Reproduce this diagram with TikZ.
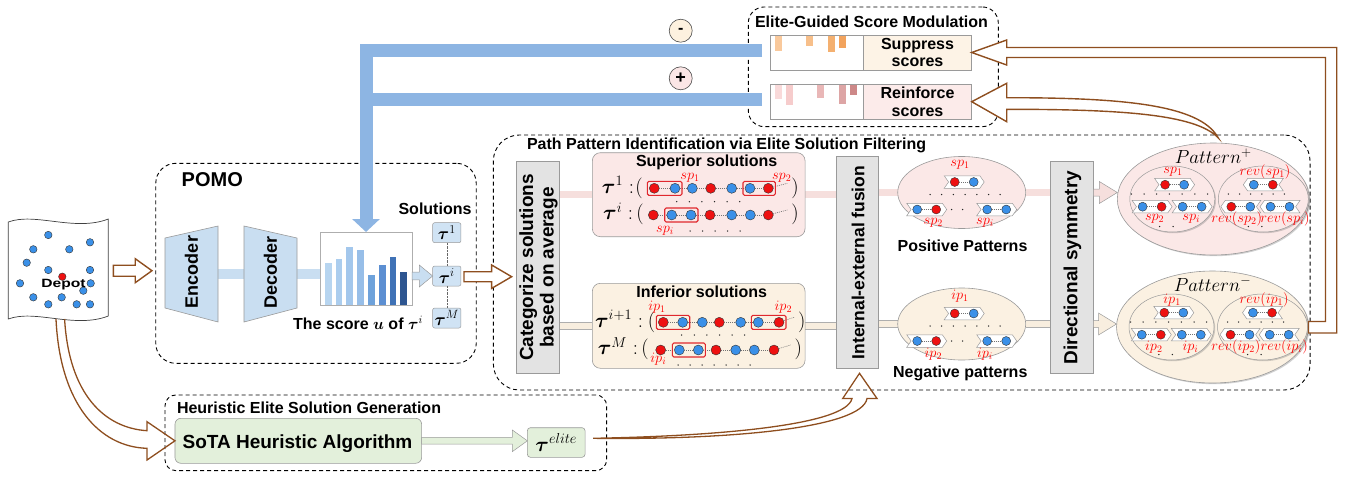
\RequirePackage{fix-cm}
\documentclass[tikz,border=0pt]{standalone}
\usepackage{amsmath}
\usepackage{fontspec}
\setmainfont{Liberation Sans}
\usetikzlibrary{shapes.geometric,shapes.symbols,arrows.meta,calc,fit,backgrounds,shadows}

\definecolor{brn}{HTML}{8E4E1F}
\definecolor{barblue}{HTML}{8DB5E3}
\definecolor{ltblue}{HTML}{C9DEF1}
\definecolor{boxblue}{HTML}{D0E3F4}
\definecolor{supfill}{HTML}{FBE8E7}
\definecolor{inffill}{HTML}{FBF1E2}
\definecolor{pinkband}{HTML}{F6DFDD}
\definecolor{creamband}{HTML}{F8EEDF}
\definecolor{boxgray}{HTML}{E3E3E3}
\definecolor{dred}{HTML}{EE1111}
\definecolor{dblue}{HTML}{3A90E8}
\definecolor{rbox}{HTML}{E0282E}
\definecolor{suppfill}{HTML}{FDF3E6}
\definecolor{reinfill}{HTML}{FCEBEA}
\definecolor{grn}{HTML}{E3F0DB}
\definecolor{minusfill}{HTML}{FDF1DF}
\definecolor{plusfill}{HTML}{FBE6E6}
\definecolor{edge}{HTML}{9A9A9A}
\definecolor{cb1}{HTML}{B7D5F0}
\definecolor{cb2}{HTML}{ABCDEE}
\definecolor{cb3}{HTML}{A3C7EC}
\definecolor{cb4}{HTML}{97BEE8}
\definecolor{cb5}{HTML}{6EA2DB}
\definecolor{cb6}{HTML}{5C8FD2}
\definecolor{cb7}{HTML}{3F72B6}
\definecolor{cb8}{HTML}{2D5590}
\definecolor{sb1}{HTML}{F9C99C}
\definecolor{sb2}{HTML}{F7BF8A}
\definecolor{sb3}{HTML}{F4B070}
\definecolor{sb4}{HTML}{F2A35D}
\definecolor{rb1}{HTML}{F9DADA}
\definecolor{rb2}{HTML}{F6CCCC}
\definecolor{rb3}{HTML}{E9B7B7}
\definecolor{rb4}{HTML}{DDA5A5}
\definecolor{rb5}{HTML}{CD8888}

% horizontal block arrow: [style]{from}{to}{shaft half width}{head half width}{head length}
\newcommand{\harrow}[6][]{%
  \draw[#1] let \p1=#2, \p2=#3 in
    (\x1,\y1+#4) -- (\x2-#6,\y1+#4) -- (\x2-#6,\y1+#5) -- (\x2,\y1)
    -- (\x2-#6,\y1-#5) -- (\x2-#6,\y1-#4) -- (\x1,\y1-#4) -- cycle;}

% one solution: seven customer dots joined by dotted links
\newcommand{\solrow}[3]{%
  \foreach \xx/\ss [count=\k] in {#3} {\node[\ss] (#1-\k) at (\xx,#2) {};}
  \foreach \k [remember=\k as \kp (initially 1)] in {2,...,7} {\draw[plink] (#1-\kp) -- (#1-\k);}}

% a path fragment: chevron holding two nodes
\newcommand{\chv}[5]{%
  \node[#3] (#1) at #2 {};
  \node[#4] (#1a) at ($(#1.center)+(-9.5,0)$) {};
  \node[#5] (#1b) at ($(#1.center)+(9.5,0)$) {};
  \draw[plink] (#1a) -- (#1b);}

% pattern pool (positive / negative)
\newcommand{\posneg}[4]{%
  \node[ellipse, draw=edge, fill=#3, line width=0.6pt, minimum width=128pt, minimum height=72pt] (#1) at #2 {};
  \node[lbl] (#1p1) at ($(#1)+(-1.7,-28)$) {$#4p_1$};
  \chv{#1a}{($(#1)+(2.5,-10.5)$)}{chF}{rp}{bp}
  \draw[dotrow=11.7pt] ($(#1)+(-31.7,2)$) -- ($(#1)+(38.5,2)$);
  \chv{#1b}{($(#1)+(-35,17)$)}{chF}{bp}{rp}
  \draw[dotrow=11pt] ($(#1)+(-10,17)$) -- ($(#1)+(12,17)$);
  \chv{#1c}{($(#1)+(35,17)$)}{chF}{bp}{bp}
  \node[lbl] (#1p2) at ($(#1)+(-28.4,30.5)$) {$#4p_2$};
  \node[lbl] (#1p3) at ($(#1)+(23.3,30.5)$) {$#4p_i$};}

% pattern set with its direction-reversed copy
\newcommand{\patgroup}[5]{%
  \node[ellipse, draw=edge, fill=#3, line width=0.6pt, minimum width=192pt, minimum height=112pt, shadowed] (#1) at #2 {};
  \node[font=\fontsize{19}{19}\selectfont] (#1t) at ($(#1)+(0,-43)$) {$Pattern^{#4}$};
  \node[ellipse, draw=edge, fill=#3, line width=0.5pt, minimum width=85pt, minimum height=66pt, shadowed] (#1L) at ($(#1)+(-41,0)$) {};
  \node[ellipse, draw=edge, fill=#3, line width=0.5pt, minimum width=90pt, minimum height=66pt, shadowed] (#1R) at ($(#1)+(50,0)$) {};
  \node[lbl] (#1L0) at ($(#1L)+(0.6,-27.3)$) {$#5p_1$};
  \chv{#1La}{($(#1L)+(2.3,-14.3)$)}{chF}{rp}{bp}
  \draw[dotrow=12.7pt] ($(#1L)+(-41,-5)$) -- ($(#1L)+(35.2,-5)$);
  \chv{#1Lb}{($(#1L)+(-20.2,7.7)$)}{chF}{bp}{rp}
  \chv{#1Lc}{($(#1L)+(19.8,7.7)$)}{chF}{bp}{bp}
  \node[lbl] (#1L2) at ($(#1L)+(-17.7,20)$) {$#5p_2$};
  \node[lbl] (#1L3) at ($(#1L)+(19,20)$) {$#5p_i$};
  \draw[dotrow=13.5pt] ($(#1L)+(-12.7,27.5)$) -- ($(#1L)+(14.3,27.5)$);
  \node[rlbl] (#1R0) at ($(#1R)+(1.7,-27.3)$) {$rev(#5p_1)$};
  \chv{#1Ra}{($(#1R)+(0,-14.3)$)}{chR}{bp}{rp}
  \draw[dotrow=11.2pt] ($(#1R)+(-35,-5)$) -- ($(#1R)+(32,-5)$);
  \chv{#1Rb}{($(#1R)+(-22.5,7.7)$)}{chR}{rp}{bp}
  \chv{#1Rc}{($(#1R)+(16.7,7.7)$)}{chR}{bp}{bp}
  \node[rlbl] (#1R2) at ($(#1R)+(-26.6,20)$) {$rev(#5p_2)$};
  \node[rlbl] (#1R3) at ($(#1R)+(21.7,20)$) {$rev(#5p_i)$};
  \draw[dotrow=13.5pt] ($(#1R)+(-15,27.5)$) -- ($(#1R)+(12,27.5)$);}

\begin{document}
\begin{tikzpicture}[x=1pt,y=-1pt,
  every node/.style={inner sep=0pt,outer sep=0pt},
  dashframe/.style={draw=black, line width=0.9pt, dash pattern=on 4pt off 3pt},
  ttl/.style={font=\fontsize{16}{19}\selectfont\bfseries},
  hollow/.style={draw=brn, fill=white, line width=1.4pt, line join=miter},
  brnline/.style={draw=brn, line width=1.3pt},
  gbox/.style={draw=edge, fill=boxgray, line width=0.6pt},
  rot/.style={rotate=90, align=center, font=\fontsize{19}{20.5}\selectfont\bfseries},
  rd/.style={circle, draw=black!80, line width=0.4pt, fill=dred, minimum size=10pt},
  bd/.style={circle, draw=black!80, line width=0.4pt, fill=dblue, minimum size=10pt},
  rp/.style={rd, minimum size=9pt},
  bp/.style={bd, minimum size=9pt},
  mdot/.style={bd, minimum size=7.5pt},
  plink/.style={draw=black!55, line width=0.6pt, dash pattern=on 1pt off 1pt},
  dotrow/.style={draw=black!85, line width=1.5pt, line cap=round, dash pattern=on 0pt off #1},
  dotrow/.default=12.6pt,
  chF/.style={signal, signal to=east, signal from=west, signal pointer angle=110, draw=edge, fill=white, line width=0.5pt, minimum width=40pt, minimum height=12.5pt},
  chR/.style={signal, signal to=west, signal from=east, signal pointer angle=110, draw=edge, fill=white, line width=0.5pt, minimum width=40pt, minimum height=12.5pt},
  pband/.style={draw=edge!80, line width=0.5pt, double=pinkband, double distance=6.5pt},
  cband/.style={draw=edge!80, line width=0.5pt, double=creamband, double distance=6.5pt},
  parrow/.style={draw=edge, fill=pinkband, line width=0.5pt},
  carrow/.style={draw=edge, fill=creamband, line width=0.5pt},
  blueband/.style={draw=edge, line width=0.5pt, double=ltblue, double distance=9.5pt},
  lbarrow/.style={draw=edge, fill=ltblue, line width=0.5pt},
  garrow/.style={draw=edge, fill=grn, line width=0.5pt},
  taubox/.style={draw=edge, fill=boxblue, rounded corners=2pt, line width=0.5pt, minimum width=28.3pt, minimum height=20pt, font=\fontsize{17.28}{17.28}\selectfont},
  redbox/.style={draw=rbox, line width=1.1pt, rounded corners=1.5pt, inner sep=2pt},
  lbl/.style={text=red, font=\fontsize{14.4}{14.4}\selectfont},
  rlbl/.style={text=red, font=\fontsize{14.4}{14.4}\selectfont},
  rowlab/.style={font=\fontsize{20.74}{20.74}\selectfont},
  paren/.style={font=\fontsize{20.74}{20.74}\selectfont, anchor=base},
  shadowed/.style={drop shadow={shadow xshift=1.2pt, shadow yshift=-1.2pt, opacity=0.3, fill=black!60}},
  bluebar/.style={draw=barblue, line join=miter}]

\useasboundingbox (0,0) rectangle (1348,479);

% ---------- dashed frames ----------
\node[dashframe, rounded corners=20pt, minimum width=320.5pt, minimum height=200pt] (pomo) at (316,263.3) {};
\node[dashframe, rounded corners=16pt, minimum width=250pt, minimum height=119.7pt] (egsm) at (873.3,66.8) {};
\node[dashframe, rounded corners=26pt, minimum width=816.7pt, minimum height=255pt] (ppi) at (901.7,262.5) {};
\node[dashframe, rounded corners=11pt, minimum width=441.7pt, minimum height=75.7pt] (hesg) at (385.8,432.8) {};

\node[font=\fontsize{20}{20}\selectfont\bfseries, anchor=base west] (pomot) at (181.7,186.7) {POMO};
\node[ttl, anchor=base west] (egsmt) at (755,27.3) {Elite-Guided Score Modulation};
\node[ttl, anchor=base west] (ppit) at (527,149.3) {Path Pattern Identification via Elite Solution Filtering};
\node[ttl, anchor=base west] (hesgt) at (177,413.3) {Heuristic Elite Solution Generation};

% ---------- problem instance ----------
\node[minimum width=100pt, minimum height=100pt] (map) at (58.3,270) {};
\draw[draw=black!75, line width=0.7pt, fill=white] (8.3,222) .. controls (35,212) and (75,232) .. (108.3,219)
  -- (108.3,316) .. controls (75,329) and (35,309) .. (8.3,319) -- cycle;
\foreach \px/\py [count=\k] in {48.3/235, 90/242.3, 33.3/249.3, 69.3/249.3, 26.7/262.7, 48.3/270, 90/270,
    20/283.3, 90.7/283.3, 83.3/290.7, 33.3/297.3, 61.7/297.3, 48.3/304.3, 76.7/304.3, 90/304.3}
  \node[mdot] (cust\k) at (\px,\py) {};
\node[rd, minimum size=7.5pt] (depotdot) at (62.3,276.7) {};
\node[font=\fontsize{12}{12}\selectfont\bfseries, xscale=1.3, anchor=base] (depot) at (63.5,287.3) {Depot};

\harrow[hollow]{($(map.east)+(5,0.7)$)}{($(pomo.west)+(-3.8,0)$)}{5.5pt}{12pt}{16.7pt}

% ---------- POMO ----------
\node[minimum width=53pt, minimum height=96pt] (enc) at (191.5,274) {};
\node[minimum width=53pt, minimum height=96pt] (dec) at (270.5,274) {};
\node[draw=edge!80, fill=white, line width=0.6pt, minimum width=92pt, minimum height=73pt] (chart) at (366,268.5) {};
\begin{pgfonlayer}{background}
  \draw[blueband] (enc.east) -- (dec.west);
  \draw[blueband] (dec.east) -- (chart.west |- dec.east);
\end{pgfonlayer}
\draw[draw=edge, fill=ltblue, line width=0.6pt] (165,238) -- (218,226) -- (218,322) -- (165,308) -- cycle;
\draw[draw=edge, fill=ltblue, line width=0.6pt] (244,226) -- (297,238) -- (297,308) -- (244,322) -- cycle;
\node[rot, font=\fontsize{18}{18}\selectfont\bfseries] (enct) at (191.5,272) {Encoder};
\node[rot, font=\fontsize{18}{18}\selectfont\bfseries] (dect) at (270.5,272) {Decoder};

\foreach \bx/\bt/\bc in {325/263.3/cb1, 335.7/258.7/cb2, 346.3/246.7/cb3, 357/250/cb4,
    368.3/275/cb5, 379/265/cb6, 389.7/256.7/cb7, 400.3/271.7/cb8}
  \fill[\bc] (\bx,\bt) rectangle (\bx+6.7,305);

\node[taubox] (tau1) at (446.8,232.7) {$\boldsymbol{\tau}^{1}$};
\node[taubox] (taui) at (446.8,276) {$\boldsymbol{\tau}^{i}$};
\node[taubox] (tauM) at (446.8,318) {$\boldsymbol{\tau}^{M}$};
\draw[black!60, densely dotted] (tau1) -- (taui);
\draw[black!60, densely dotted] (taui) -- (tauM);
\node[ttl, anchor=base] (soll) at (435,214.3) {Solutions};
\node[ttl, anchor=base] (score) at (358,329) {The score $\boldsymbol{u}$ of $\boldsymbol{\tau}^{i}$};
\harrow[lbarrow]{(chart.east |- taui.west)}{(taui.west)}{3.8pt}{11pt}{13.4pt}

% ---------- score modulation ----------
\node[draw=edge, fill=white, line width=0.6pt, minimum width=93.3pt, minimum height=35pt] (schart) at (816.7,52.5) {};
\node[draw=edge, fill=suppfill, line width=0.6pt, minimum width=108.4pt, minimum height=35pt, align=center,
  font=\fontsize{16}{17.7}\selectfont\bfseries] (supp) at (917.5,52.5) {Suppress\\scores};
\foreach \bx/\bb/\bc in {775/50.7/sb1, 806/45.7/sb2, 828.3/51.7/sb3, 839.3/48.3/sb4}
  \fill[\bc] (\bx,35.6) rectangle (\bx+6.7,\bb);
\node[draw=edge, fill=white, line width=0.6pt, minimum width=93.3pt, minimum height=34.7pt] (rchart) at (816.7,101.7) {};
\node[draw=edge, fill=reinfill, line width=0.6pt, minimum width=108.4pt, minimum height=34.7pt, align=center,
  font=\fontsize{16}{17.7}\selectfont\bfseries] (rein) at (917.5,101.7) {Reinforce\\scores};
\foreach \bx/\bb/\bc in {775/99.3/rb1, 786/105.3/rb2, 817.3/97.7/rb3, 839.3/104/rb4, 850.3/95/rb5}
  \fill[\bc] (\bx,84.7) rectangle (\bx+6.7,\bb);

\node[circle, draw=black!70, line width=0.6pt, fill=minusfill, minimum size=23pt, font=\fontsize{16}{16}\selectfont\bfseries] (minus) at (680.7,30.7) {-};
\node[circle, draw=black!70, line width=0.6pt, fill=plusfill, minimum size=23pt, font=\fontsize{18}{18}\selectfont\bfseries] (plus) at (680.7,78.3) {+};

% score feedback into the decoder output
\draw[bluebar, line width=13pt, -{Triangle[width=27pt,length=13pt]}] ($(schart.west)+(-8,-2.5)$) -| (chart.north);
\draw[bluebar, line width=12.5pt] ($(rchart.west)+(-8,-2.2)$) -- ($(chart.north |- rchart.west)+(0,-2.2)$);

% ---------- pattern identification ----------
\node[gbox, minimum width=42.3pt, minimum height=211.6pt] (cat) at (537.8,267.5) {};
\node[rot] (catt) at (538.5,267.5) {Categorize solutions\\based on average};
\harrow[hollow]{($(taui.east)+(3,0.7)$)}{($(cat.west)+(-5,0)$)}{5pt}{11.7pt}{20pt}

\node[draw=edge, fill=supfill, rounded corners=8pt, line width=0.6pt, minimum width=212.7pt, minimum height=84pt] (sup) at (698.7,194.7) {};
\node[draw=edge, fill=inffill, rounded corners=8pt, line width=0.6pt, minimum width=212.7pt, minimum height=85pt] (inf) at (698.7,325.8) {};
\node[gbox, minimum width=41.6pt, minimum height=211.6pt] (fus) at (857.5,262.5) {};
\node[rot, font=\fontsize{17.5}{17.5}\selectfont\bfseries] (fust) at (858,262.5) {Internal-external fusion};
\node[gbox, minimum width=42.6pt, minimum height=211.6pt] (dsym) at (1072,267.5) {};
\node[rot] (dsymt) at (1072.5,267.5) {Directional symmetry};

\node[ttl, anchor=base] (supt) at (706.7,166.7) {Superior solutions};
\node[ttl, anchor=base] (inft) at (701.7,297.7) {Inferior solutions};

% superior solutions
\node[rowlab, anchor=base east] (a-l) at (634,193) {$\boldsymbol{\tau}^{1}\;{:}$};
\node[paren] (a-o) at (639,193) {$($};
\solrow{a}{188.3}{654.3/rd,675/bd,692.3/bd,710.7/rd,731.7/bd,750/bd,768.3/rd}
\node[paren] (a-c) at (795,193) {$)$};
\draw[plink] (a-7) -- ($(a-c.west)+(-4,-4.5)$);
\node[rowlab, anchor=base east] (b-l) at (633,219.7) {$\boldsymbol{\tau}^{i}\;{:}$};
\node[paren] (b-o) at (640,219.7) {$($};
\solrow{b}{215}{653.3/rd,671.7/bd,691/bd,710/rd,731.7/bd,750.3/bd,768.3/rd}
\node[paren] (b-c) at (795,219.7) {$)$};
\draw[plink] (b-7) -- ($(b-c.west)+(-4,-4.5)$);
\node[redbox, fit=(a-1)(a-2)] (sp1box) {};
\node[redbox, fit=(a-6)(a-7)] (sp2box) {};
\node[redbox, fit=(b-2)(b-3)] (spibox) {};
\node[lbl] (sp1l) at (690,177.5) {$sp_1$};
\node[lbl] (sp2l) at (781.7,177.5) {$sp_2$};
\node[lbl] (spil) at (665,231) {$sp_i$};
\draw[dotrow] (676.7,201.7) -- (740,201.7);
\draw[dotrow=12.5pt] (690,231) -- (740,231);

% inferior solutions
\node[rowlab, anchor=base east] (c-l) at (643,327) {$\boldsymbol{\tau}^{i+1}\;{:}$};
\node[paren] (c-o) at (651.5,327) {$($};
\solrow{c}{322.3}{663.3/rd,682.7/bd,702.3/bd,719.3/rd,740.7/bd,758.3/bd,779/rd}
\node[paren] (c-c) at (801.7,327) {$)$};
\draw[plink] (c-7) -- ($(c-c.west)+(-4,-4.5)$);
\node[rowlab, anchor=base east] (d-l) at (638,354.7) {$\boldsymbol{\tau}^{M}\;{:}$};
\node[paren] (d-o) at (645,354.7) {$($};
\solrow{d}{350}{660.7/rd,679.3/bd,698.3/bd,716/rd,735.7/bd,754.3/bd,774/rd}
\node[paren] (d-c) at (798.3,354.7) {$)$};
\draw[plink] (d-7) -- ($(d-c.west)+(-4,-4.5)$);
\node[redbox, fit=(c-1)(c-2)] (ip1box) {};
\node[redbox, fit=(c-6)(c-7)] (ip2box) {};
\node[redbox, fit=(d-2)(d-3)] (ipibox) {};
\node[lbl] (ip1l) at (657,307.5) {$ip_1$};
\node[lbl] (ip2l) at (783.3,307.5) {$ip_2$};
\node[lbl] (ipil) at (658.3,359.5) {$ip_i$};
\draw[dotrow] (681.7,335) -- (745,335);
\draw[dotrow=12pt] (678,365) -- (750,365);

% pattern pools
\posneg{posE}{(961.7,192.5)}{supfill}{s}
\posneg{negE}{(961.7,324)}{inffill}{i}
\node[ttl, anchor=base] (posEt) at (962.5,251.7) {Positive Patterns};
\node[ttl, anchor=base] (negEt) at (960.3,377.7) {Negative patterns};

\patgroup{pplus}{(1213.3,199)}{supfill}{+}{s}
\patgroup{pminus}{(1212.5,327)}{inffill}{-}{i}

\begin{pgfonlayer}{background}
  \draw[pband] (cat.east |- sup.west) -- (sup.west);
  \draw[pband] (sup.east) -- (fus.west |- sup.east);
  \draw[pband] (fus.east |- posE.west) -- (posE.west);
  \draw[pband] (posE.east) -- (dsym.west |- posE.east);
  \draw[cband] (cat.east |- inf.west) -- (inf.west);
  \draw[cband] (inf.east) -- (fus.west |- inf.east);
  \draw[cband] (fus.east |- negE.west) -- (negE.west);
  \draw[cband] (negE.east) -- (dsym.west |- negE.east);
\end{pgfonlayer}
\harrow[parrow]{(dsym.east |- posE.east)}{(pplus.west)}{3.5pt}{11pt}{18pt}
\harrow[carrow]{(dsym.east |- negE.east)}{(pminus.west)}{3.5pt}{11pt}{18pt}

% ---------- heuristic elite solutions ----------
\node[draw=edge, fill=grn, rounded corners=6pt, line width=0.6pt, minimum width=246.7pt, minimum height=45pt] (sota) at (298.3,440.8) {};
\node[font=\fontsize{19}{19}\selectfont\bfseries, anchor=base] (sotat) at (297.5,448.3) {SoTA Heuristic Algorithm};
\node[draw=edge, fill=grn, rounded corners=3pt, line width=0.6pt, minimum width=57.7pt, minimum height=29.6pt,
  font=\fontsize{20.74}{20.74}\selectfont] (telite) at (556.2,442.5) {$\boldsymbol{\tau}^{elite}$};
\harrow[garrow]{(sota.east)}{(telite.west)}{3.4pt}{10.8pt}{15pt}

% ---------- brown connectors ----------
% curved block arrow: instance -> heuristic solver
\draw[brnline, line join=miter] ($(map.south)+(-2.3,-1)$) .. controls (60,405) and (100,447) .. (147,448.3)
  -- (147,460) -- (sota.west) -- (147,421.7) -- (147,430.7) .. controls (105,428) and (69,395) .. ($(map.south)+(6.3,-1)$);
% curved block arrow: elite solution -> fusion
\draw[brnline, line join=miter] ($(telite.east)+(8,-4.2)$) .. controls (720,436) and (846,425) .. (852,398.5)
  -- (842.7,398.5) -- ($(fus.south)+(2,5)$) -- (877,398.5) -- (867,398.5) .. controls (862,428) and (730,440) .. ($(telite.east)+(8,-4.2)$);
% modulation feedback from the pattern sets
\draw[hollow] (supp.east) -- ++(35,-12.5) -- ++(0,7.5) -- (1336.7,47.5) |- ($(pminus.east)+(0,6)$) -- ++(0,-11.5)
  -- (1325.5,321.5) |- (1006.7,57.5) -- ++(0,7.5) -- cycle;
\draw[hollow] (rein.east) -- ++(35,-18.4) -- ++(0,14.4) .. controls (1120,97.7) and (1200,104) .. ($(pplus.north)+(5,-5)$)
  .. controls (1196,114) and (1120,109.3) .. (1006.7,109.3) -- ++(0,12.4) -- cycle;
\end{tikzpicture}
\end{document}
